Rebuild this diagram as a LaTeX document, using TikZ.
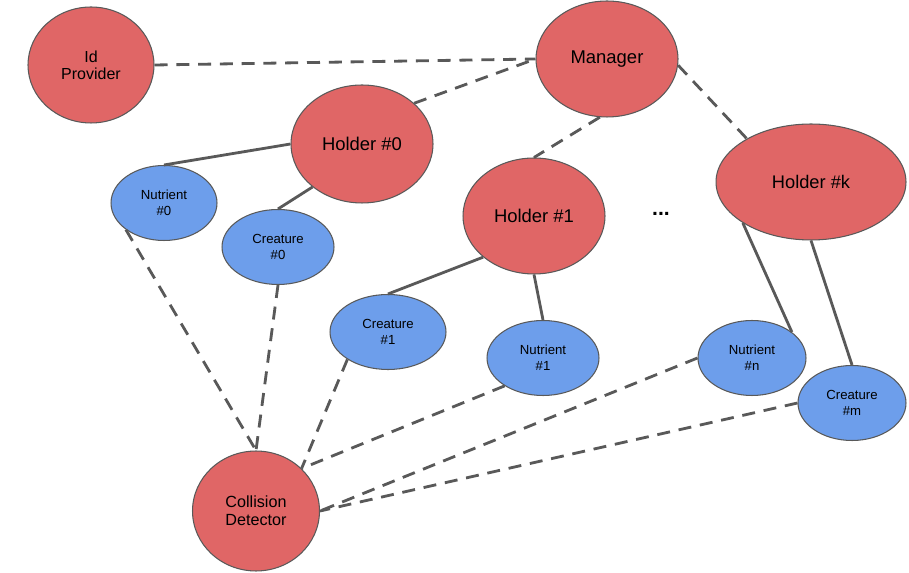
\documentclass[tikz,border=0pt]{standalone}
\usepackage{fontspec}
\setmainfont{Liberation Sans}
\usetikzlibrary{shapes.geometric}

\definecolor{holderred}{HTML}{E06666}
\definecolor{itemblue}{HTML}{6D9EEB}
\definecolor{linegray}{HTML}{595959}

\begin{document}
\begin{tikzpicture}[x=0.02cm, y=-0.02cm,
    big/.style={draw=linegray, line width=0.6pt, fill=holderred, ellipse, inner sep=0pt, align=center},
    small/.style={draw=linegray, line width=0.6pt, fill=itemblue, ellipse, inner sep=0pt, align=center,
        minimum height=1.5cm, font=\fontsize{7.5}{9}\selectfont},
    link/.style={draw=linegray, line width=1.6pt},
    ref/.style={draw=linegray, line width=1.6pt, dash pattern=on 7.4pt off 5pt}]
                \useasboundingbox (0,0) rectangle (909,573);

                \node[big, minimum width=2.52cm, minimum height=2.32cm, font=\fontsize{9.1}{9.8}\selectfont] (IdP) at (91,65) {Id\\Provider};
                \node[big, minimum width=2.84cm, minimum height=2.32cm, font=\fontsize{10.5}{11}\selectfont] (Mgr) at (607,59) {Manager};

                \node[big, minimum width=2.84cm, minimum height=2.36cm, font=\fontsize{10.5}{11}\selectfont] (H0) at (362,144) {Holder \#0};
                \node[big, minimum width=2.84cm, minimum height=2.32cm, font=\fontsize{10.5}{11}\selectfont] (H1) at (534,216) {Holder \#1};
                \node[big, minimum width=3.8cm, minimum height=2.32cm, font=\fontsize{10.4}{11}\selectfont] (Hk) at (811,182) {Holder \#k};
                \node[font=\fontsize{12}{12}\selectfont\bfseries] (dots) at (661,214) {...};

                \node[small, minimum width=2.12cm] (N0) at (164,203) {Nutrient\\\#0};
                \node[small, minimum width=2.24cm] (C0) at (278,247) {Creature\\\#0};
                \node[small, minimum width=2.32cm] (C1) at (388,332) {Creature\\\#1};
                \node[small, minimum width=2.24cm] (N1) at (543,358) {Nutrient\\\#1};
                \node[small, minimum width=2.16cm] (Nn) at (752,358) {Nutrient\\\#n};
                \node[small, minimum width=2.16cm] (Cm) at (852,403) {Creature\\\#m};

                \node[big, minimum width=2.54cm, minimum height=2.4cm, font=\fontsize{9.2}{10.2}\selectfont] (CD) at (256,511) {Collision\\Detector};

                % Links: manager to the others
                \draw[ref] (IdP.east) -- (Mgr.west);
                \draw[ref] (H0.38) -- (Mgr.west);
                \draw[ref] (Mgr.263) -- (H1.north);
                \draw[ref] (Mgr.-5) -- (Hk.146);

                % Links: holders to their items
                \draw[link] (H0.west) -- (N0.north);
                \draw[link] (H0.221) -- (C0.north);
                \draw[link] (H1.219) -- (C1.north);
                \draw[link] (H1.south) -- (N1.north);
                \draw[link] (Hk.211) -- (Nn.33);
                \draw[link] (Hk.south) -- (Cm.north);

                % Links: items to the collision detector
                \draw[ref] (N0.215) -- (CD.north);
                \draw[ref] (C0.south) -- (CD.north);
                \draw[ref] (C1.214) -- (CD.43);
                \draw[ref] (N1.216) -- (CD.43);
                \draw[ref] (Nn.west) -- (CD.east);
                \draw[ref] (Cm.west) -- (CD.east);
            \end{tikzpicture}
\end{document}
